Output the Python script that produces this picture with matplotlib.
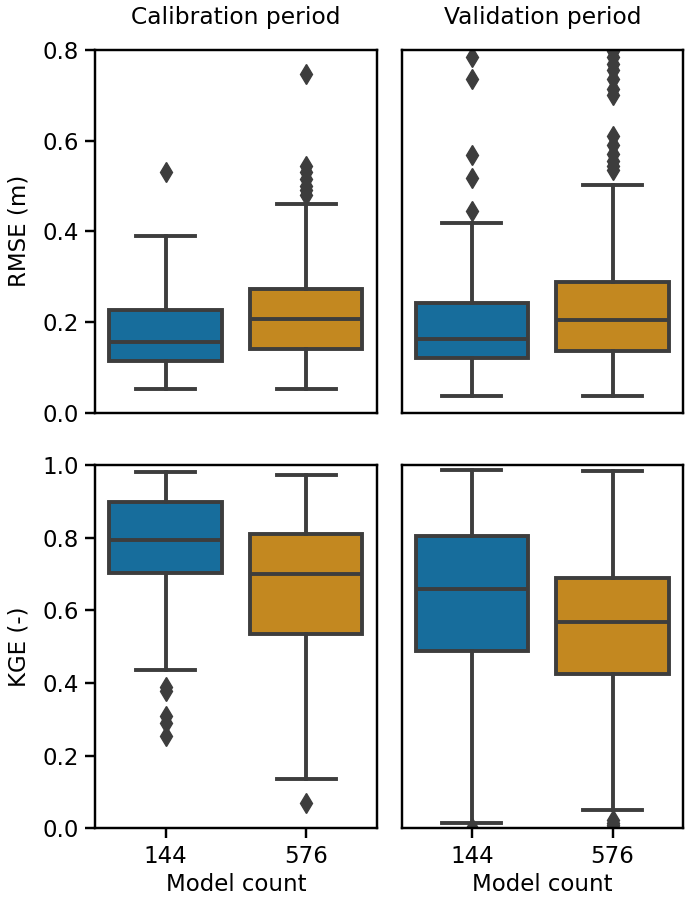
import colorsys

import matplotlib
matplotlib.use("Agg")
import matplotlib.pyplot as plt
import matplotlib.colors as mcolors

# model counts (x categories)
counts = ["144", "576"]
periods = ["Calibration period", "Validation period"]

# box statistics: [whislo, q1, med, q3, whishi]
rmse_cal = [[0.052, 0.113, 0.155, 0.226, 0.390],
            [0.052, 0.140, 0.206, 0.272, 0.460]]
rmse_cal_fliers = [[0.530],
                   [0.480, 0.490, 0.500, 0.515, 0.530, 0.545, 0.748]]
rmse_val = [[0.037, 0.120, 0.163, 0.242, 0.418],
            [0.037, 0.135, 0.205, 0.287, 0.502]]
rmse_val_fliers = [[0.445, 0.518, 0.568, 0.735, 0.785],
                   [0.535, 0.545, 0.555, 0.570, 0.590, 0.610,
                    0.700, 0.715, 0.735, 0.755, 0.770, 0.785, 0.798]]

kge_cal = [[0.437, 0.703, 0.795, 0.900, 0.982],
           [0.135, 0.535, 0.700, 0.810, 0.975]]
kge_cal_fliers = [[0.390, 0.378, 0.310, 0.290, 0.255],
                  [0.070]]
kge_val = [[0.015, 0.487, 0.660, 0.805, 0.988],
           [0.050, 0.425, 0.568, 0.690, 0.985]]
kge_val_fliers = [[0.000],
                  [0.022, 0.015, 0.008, 0.002]]

palette = ["#0173b2", "#de8f05"]
gray = "#3d3d3d"


def desat(c, s=0.75):
	r, g, b = mcolors.to_rgb(c)
	h, l, sat = colorsys.rgb_to_hls(r, g, b)
	return colorsys.hls_to_rgb(h, l, sat * s)


def draw(ax, stats, fliers):
	items = []
	for st, fl in zip(stats, fliers):
		items.append(dict(whislo=st[0], q1=st[1], med=st[2], q3=st[3],
		                  whishi=st[4], fliers=fl))
	lw = 2.8
	res = ax.bxp(items, positions=[0, 1], widths=0.8, capwidths=0.42,
	             patch_artist=True,
	             boxprops=dict(edgecolor=gray, linewidth=lw),
	             medianprops=dict(color=gray, linewidth=lw),
	             whiskerprops=dict(color=gray, linewidth=lw),
	             capprops=dict(color=gray, linewidth=lw),
	             flierprops=dict(marker="d", markersize=10,
	                             markerfacecolor=gray, markeredgecolor=gray))
	for box, c in zip(res["boxes"], palette):
		box.set_facecolor(desat(c))
	ax.set_xlim(-0.5, 1.5)


plt.rcParams["font.family"] = "DejaVu Sans"
plt.rcParams["font.size"] = 16.5
plt.rcParams["axes.titlesize"] = 16.8
plt.rcParams["axes.labelsize"] = 16.5
plt.rcParams["xtick.labelsize"] = 16.5
plt.rcParams["ytick.labelsize"] = 16.5
plt.rcParams["axes.linewidth"] = 1.75
plt.rcParams["xtick.major.width"] = 1.75
plt.rcParams["ytick.major.width"] = 1.75
plt.rcParams["xtick.major.size"] = 7
plt.rcParams["ytick.major.size"] = 7
plt.rcParams["ytick.major.pad"] = 5
plt.rcParams["xtick.major.pad"] = 5

fig, axes = plt.subplots(2, 2, figsize=(6.85, 9.01), dpi=100)
fig.subplots_adjust(left=0.139, right=0.997, top=0.9445, bottom=0.081,
                    wspace=0.089, hspace=0.146)

draw(axes[0, 0], rmse_cal, rmse_cal_fliers)
draw(axes[0, 1], rmse_val, rmse_val_fliers)
draw(axes[1, 0], kge_cal, kge_cal_fliers)
draw(axes[1, 1], kge_val, kge_val_fliers)

for ax in axes[0]:
	ax.set_ylim(0, 0.8)
	ax.set_xticks([])
for ax in axes[1]:
	ax.set_ylim(0, 1.0)
	ax.set_xticks([0, 1])
	ax.set_xticklabels(counts)
	ax.set_xlabel("Model count", labelpad=4)
for ax in axes[:, 1]:
	ax.set_yticks([])

axes[0, 0].set_yticks([0.0, 0.2, 0.4, 0.6, 0.8])
axes[1, 0].set_yticks([0.0, 0.2, 0.4, 0.6, 0.8, 1.0])
axes[0, 0].set_ylabel("RMSE (m)", labelpad=8)
axes[1, 0].set_ylabel("KGE (-)", labelpad=8)
axes[0, 0].set_title(periods[0], pad=19)
axes[0, 1].set_title(periods[1], pad=19)

fig.savefig("out.png", dpi=100)
